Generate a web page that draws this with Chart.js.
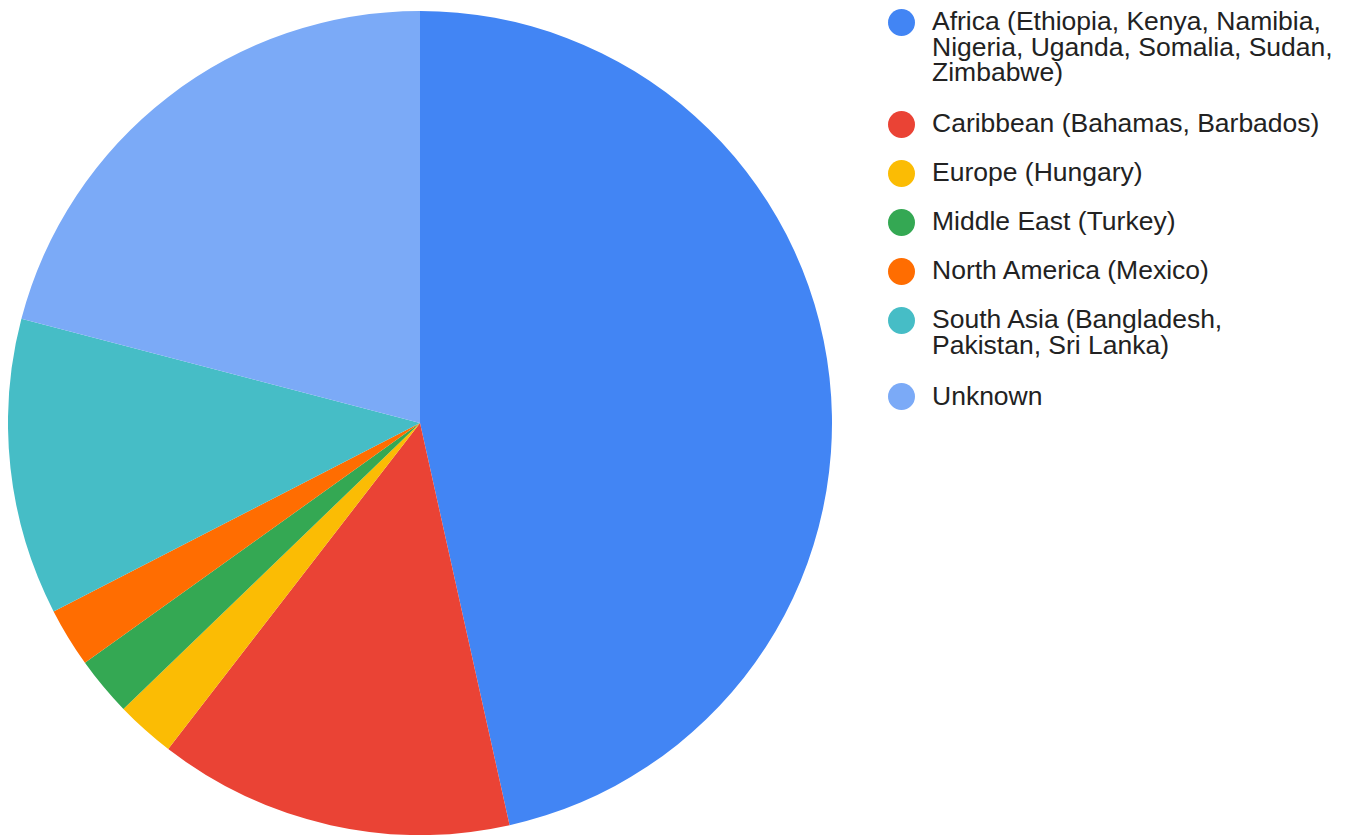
<!DOCTYPE html>
<html>
<head>
<meta charset="utf-8">
<script src="https://cdn.jsdelivr.net/npm/chart.js@4/dist/chart.umd.min.js"></script>
<style>
  html, body { margin: 0; padding: 0; background: #fff; }
  body { width: 1348px; height: 835px; position: relative; overflow: hidden; }
  #pieBox { position: absolute; left: 8px; top: 11px; width: 824px; height: 824px; }
  #legend { position: absolute; left: 888px; top: 9.25px; font-family: "Liberation Sans", Arial, sans-serif; font-size: 26.5px; color: #222; }
  .item { position: relative; padding-left: 44px; line-height: 25.5px; margin-bottom: 23.5px; white-space: pre; }
  .item.wrapped { margin-bottom: 25.5px; }
  .dot { position: absolute; left: 0; top: -0.75px; width: 27px; height: 27px; border-radius: 50%; }
</style>
</head>
<body>
<div id="pieBox"><canvas id="regionChart"></canvas></div>
<div id="legend"></div>
<script>
// regions (legend wraps at the line breaks)
const regions = [
  "Africa (Ethiopia, Kenya, Namibia,\nNigeria, Uganda, Somalia, Sudan,\nZimbabwe)",
  "Caribbean (Bahamas, Barbados)",
  "Europe (Hungary)",
  "Middle East (Turkey)",
  "North America (Mexico)",
  "South Asia (Bangladesh,\nPakistan, Sri Lanka)",
  "Unknown",
];
const counts = [20, 6, 1, 1, 1, 5, 9];
const sliceColors = ["#4285f4", "#ea4335", "#fbbc04", "#34a853", "#ff6d01", "#46bdc6", "#7baaf7"];

const ctx = document.getElementById("regionChart").getContext("2d");
new Chart(ctx, {
  type: "pie",
  data: {
    labels: regions.map((r) => r.replace(/\n/g, " ")),
    datasets: [{
      data: counts,
      backgroundColor: sliceColors,
      borderWidth: 0,
      hoverOffset: 0,
      offset: 0,
    }],
  },
  options: {
    responsive: true,
    maintainAspectRatio: false,
    animation: false,
    layout: { padding: 0 },
    plugins: {
      legend: { display: false },
      tooltip: { enabled: false },
    },
  },
});

// legend on the right, built from the same arrays
const legendEl = document.getElementById("legend");
regions.forEach((name, i) => {
  const item = document.createElement("div");
  item.className = name.includes("\n") ? "item wrapped" : "item";
  const dot = document.createElement("span");
  dot.className = "dot";
  dot.style.background = sliceColors[i];
  item.appendChild(dot);
  item.appendChild(document.createTextNode(name));
  legendEl.appendChild(item);
});
</script>
</body>
</html>
